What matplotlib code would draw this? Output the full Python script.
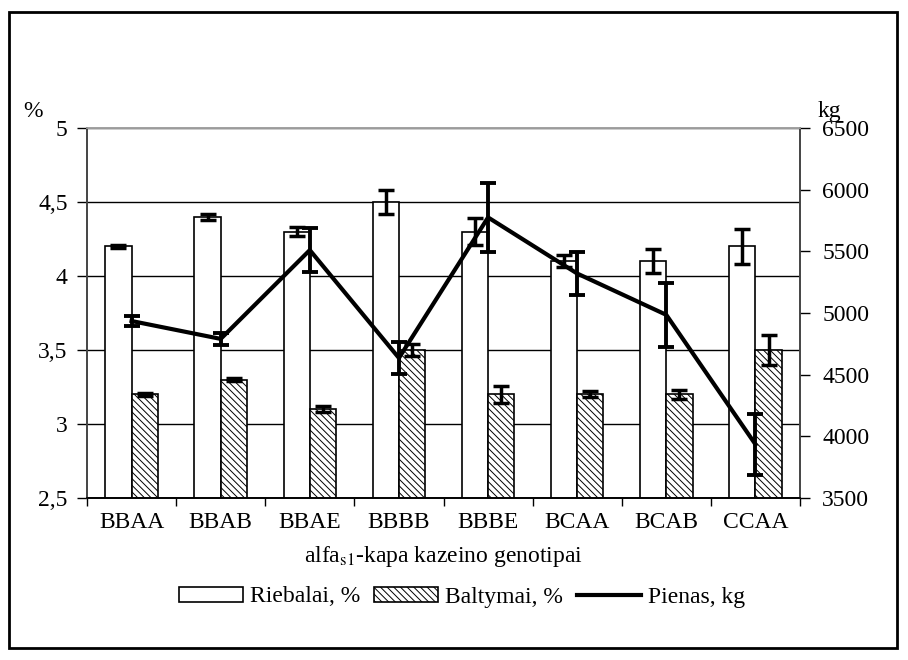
import numpy as np
import matplotlib
matplotlib.use("Agg")
import matplotlib.pyplot as plt
from matplotlib.patches import Rectangle, Patch
from matplotlib.lines import Line2D

plt.rcParams['font.family'] = ['Liberation Serif', 'DejaVu Serif']
plt.rcParams['mathtext.fontset'] = 'stix'
plt.rcParams['hatch.linewidth'] = 0.7

# duomenys
genotipai = ["BBAA", "BBAB", "BBAE", "BBBB", "BBBE", "BCAA", "BCAB", "CCAA"]
riebalai = [4.2, 4.4, 4.3, 4.5, 4.3, 4.1, 4.1, 4.2]
riebalai_err = [0.01, 0.02, 0.03, 0.08, 0.09, 0.04, 0.08, 0.12]
baltymai = [3.2, 3.3, 3.1, 3.5, 3.2, 3.2, 3.2, 3.5]
baltymai_err = [0.01, 0.01, 0.02, 0.04, 0.06, 0.02, 0.03, 0.10]
pienas = [4935, 4790, 5510, 4635, 5775, 5320, 4985, 3935]
pienas_err = [43, 46, 180, 132, 278, 174, 261, 250]

left_ticks = [2.5, 3, 3.5, 4, 4.5, 5]
left_labels = ["2,5", "3", "3,5", "4", "4,5", "5"]
right_ticks = [3500, 4000, 4500, 5000, 5500, 6000, 6500]

fs = 17
x = np.arange(len(genotipai))
w = 0.295

fig = plt.figure(figsize=(9.08, 6.6), dpi=100)
ax = fig.add_axes([87 / 908, 1 - 498 / 660, 713 / 908, 370 / 660])

ax.bar(x - w / 2, riebalai, w, bottom=0, color="white", edgecolor="black",
       linewidth=1.2, zorder=2)
ax.errorbar(x - w / 2, riebalai, yerr=riebalai_err, fmt="none", ecolor="black",
            elinewidth=2.5, capsize=6, capthick=2.5, zorder=3)
ax.bar(x + w / 2, baltymai, w, color="white", edgecolor="black",
       hatch="\\\\\\\\\\", linewidth=1.2, zorder=2)
ax.errorbar(x + w / 2, baltymai, yerr=baltymai_err, fmt="none", ecolor="black",
            elinewidth=2.5, capsize=6, capthick=2.5, zorder=3)

ax.set_xlim(-0.5, len(genotipai) - 0.5)
ax.set_ylim(2.5, 5)
ax.set_yticks(left_ticks)
ax.set_yticklabels(left_labels)
ax.yaxis.grid(True, color="black", linewidth=1)
ax.set_axisbelow(True)
ax.set_xticks(x)
ax.set_xticklabels(genotipai)
ax.set_xticks(np.arange(len(genotipai) + 1) - 0.5, minor=True)
ax.tick_params(axis="x", which="major", length=0, pad=10, labelsize=fs)
ax.tick_params(axis="x", which="minor", length=6, width=1, direction="out")
ax.tick_params(axis="y", length=7, width=1, pad=7, labelsize=fs)
ax.set_xlabel(r"alfa$_{\mathrm{s1}}$-kapa kazeino genotipai", fontsize=fs, labelpad=8)

ax2 = ax.twinx()
ax2.plot(x, pienas, color="black", linewidth=3, zorder=4)
ax2.errorbar(x, pienas, yerr=pienas_err, fmt="none", ecolor="black",
             elinewidth=2.8, capsize=6, capthick=2.8, zorder=5)
ax2.set_ylim(3500, 6500)
ax2.set_yticks(right_ticks)
ax2.tick_params(axis="y", length=7, width=1, pad=9, labelsize=fs)

for a in (ax, ax2):
    a.spines["left"].set_color("#444444")
    a.spines["right"].set_color("#444444")
    a.spines["top"].set_color("#a0a0a0")
    a.spines["bottom"].set_color("black")
    for s in a.spines.values():
        s.set_linewidth(1.2)

fig.text(23 / 908, 1 - 117 / 660, "%", fontsize=fs, ha="left", va="baseline")
fig.text(818 / 908, 1 - 117 / 660, "kg", fontsize=fs, ha="left", va="baseline")

handles = [Patch(facecolor="white", edgecolor="black", linewidth=1.2),
           Patch(facecolor="white", edgecolor="black", hatch="\\\\\\\\\\", linewidth=1.2),
           Line2D([0], [0], color="black", linewidth=3)]
fig.legend(handles, ["Riebalai, %", "Baltymai, %", "Pienas, kg"],
           loc="center", bbox_to_anchor=(462 / 908, 1 - 597 / 660), ncol=3,
           frameon=False, fontsize=fs, handlelength=2.7, handleheight=0.6,
           handletextpad=0.3, columnspacing=0.6)

fig.patches.append(Rectangle((9 / 908, 12 / 660), 888 / 908, 636 / 660,
                             transform=fig.transFigure, fill=False,
                             edgecolor="black", linewidth=2))

fig.savefig("out.png", dpi=100)
